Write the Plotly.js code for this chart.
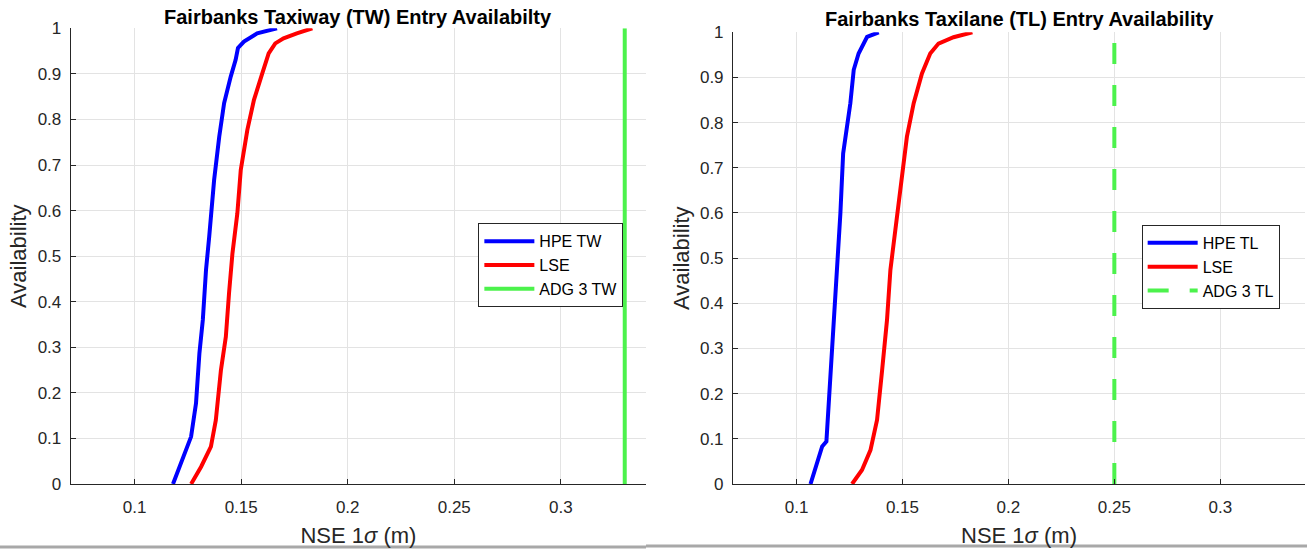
<!DOCTYPE html>
<html>
<head>
<meta charset="utf-8">
<script src="https://cdn.plot.ly/plotly-3.0.1.min.js"></script>
<style>html,body{margin:0;padding:0;background:#fff;}#chart{width:1307px;height:550px;}</style>
</head>
<body>
<div id="chart"></div>
<script>
// ---- Data ----
var twTitle = 'Fairbanks Taxiway (TW) Entry Availabilty';
var tlTitle = 'Fairbanks Taxilane (TL) Entry Availability';
var xLabel = 'NSE 1<i>σ</i> (m)';
var yLabel = 'Availability';

// Left: Taxiway
var hpeTW_x = [0.118, 0.1234, 0.1265, 0.1288, 0.1304, 0.132, 0.1335, 0.135, 0.1373, 0.1397, 0.142, 0.1451, 0.1474, 0.1485, 0.1513, 0.1575, 0.1668];
var hpeTW_y = [0, 0.067, 0.104, 0.177, 0.287, 0.36, 0.47, 0.543, 0.667, 0.762, 0.836, 0.894, 0.931, 0.957, 0.971, 0.989, 1.0];
var lseTW_x = [0.1265, 0.1312, 0.1358, 0.1381, 0.1405, 0.1428, 0.1443, 0.1459, 0.1482, 0.1498, 0.1529, 0.156, 0.1599, 0.1629, 0.166, 0.1699, 0.1761, 0.1834];
var lseTW_y = [0, 0.038, 0.082, 0.14, 0.25, 0.323, 0.419, 0.506, 0.594, 0.689, 0.777, 0.843, 0.901, 0.945, 0.967, 0.978, 0.989, 1.0];
var adgTW = 0.33;

// Right: Taxilane
var hpeTL_x = [0.1066, 0.1097, 0.1121, 0.1141, 0.1152, 0.1168, 0.1184, 0.1199, 0.1207, 0.122, 0.1231, 0.1254, 0.127, 0.1293, 0.1333, 0.1388];
var hpeTL_y = [0, 0.046, 0.083, 0.094, 0.179, 0.289, 0.4, 0.511, 0.599, 0.732, 0.769, 0.843, 0.917, 0.953, 0.99, 1.0];
var lseTL_x = [0.1262, 0.1309, 0.1349, 0.138, 0.1404, 0.1427, 0.1443, 0.1462, 0.1482, 0.1498, 0.1521, 0.1553, 0.1592, 0.1631, 0.167, 0.1741, 0.183];
var lseTL_y = [0, 0.031, 0.075, 0.142, 0.252, 0.363, 0.474, 0.547, 0.621, 0.695, 0.769, 0.843, 0.909, 0.953, 0.975, 0.989, 1.0];
var adgTL = 0.25;

var seriesNames = ['HPE TW', 'LSE', 'ADG 3 TW', 'HPE TL', 'LSE', 'ADG 3 TL'];
var availRange = [0, 1];

// ---- Styling ----
var FONT = 'Liberation Sans, Arial, Helvetica, sans-serif';
var AXC = '#262626';
var GRID = '#e3e3e3';
var BLUE = '#0000ff', RED = '#ff0000', GREEN = '#4cf24c';
var LW = 4;

var traces = [
  {x: hpeTW_x, y: hpeTW_y, name: seriesNames[0], mode: 'lines', line: {color: BLUE, width: LW}, xaxis: 'x', yaxis: 'y', legend: 'legend'},
  {x: lseTW_x, y: lseTW_y, name: seriesNames[1], mode: 'lines', line: {color: RED, width: LW}, xaxis: 'x', yaxis: 'y', legend: 'legend'},
  {x: [adgTW, adgTW], y: availRange, name: seriesNames[2], mode: 'lines', line: {color: GREEN, width: LW}, xaxis: 'x', yaxis: 'y', legend: 'legend'},
  {x: hpeTL_x, y: hpeTL_y, name: seriesNames[3], mode: 'lines', line: {color: BLUE, width: LW}, xaxis: 'x2', yaxis: 'y2', legend: 'legend2'},
  {x: lseTL_x, y: lseTL_y, name: seriesNames[4], mode: 'lines', line: {color: RED, width: LW}, xaxis: 'x2', yaxis: 'y2', legend: 'legend2'},
  {x: [adgTL, adgTL], y: availRange, name: seriesNames[5], mode: 'lines', line: {color: GREEN, width: LW, dash: '21px,21px'}, xaxis: 'x2', yaxis: 'y2', legend: 'legend2'}
];

function xAx(domain, anchor) {
  return {
    domain: domain, anchor: anchor, range: [0.07, 0.34], tick0: 0, dtick: 0.05,
    showgrid: true, gridcolor: GRID, gridwidth: 1, zeroline: false,
    showline: true, linecolor: AXC, linewidth: 1, mirror: false,
    ticks: 'inside', ticklen: 5, tickcolor: AXC, tickwidth: 1,
    ticklabelstandoff: 8,
    tickfont: {family: FONT, size: 17, color: AXC},
    title: {text: xLabel, font: {family: FONT, size: 22, color: AXC}, standoff: 11},
    automargin: false
  };
}
function yAx(domain, anchor) {
  return {
    domain: domain, anchor: anchor, range: [0, 1], tick0: 0, dtick: 0.1,
    showgrid: true, gridcolor: GRID, gridwidth: 1, zeroline: false,
    showline: true, linecolor: AXC, linewidth: 1, mirror: false,
    ticks: 'inside', ticklen: 5, tickcolor: AXC, tickwidth: 1,
    ticklabelstandoff: 5,
    tickfont: {family: FONT, size: 17, color: AXC},
    title: {text: yLabel, font: {family: FONT, size: 22, color: AXC}, standoff: 4},
    automargin: false
  };
}

var legendStyle = function (x, y) {
  return {
    x: x, y: y, xanchor: 'left', yanchor: 'top', xref: 'paper', yref: 'paper',
    bgcolor: '#ffffff', bordercolor: AXC, borderwidth: 1,
    font: {family: FONT, size: 16, color: '#000000'},
    itemwidth: 50, tracegroupgap: 0
  };
};

var layout = {
  width: 1307, height: 550,
  margin: {l: 0, r: 0, t: 0, b: 0},
  paper_bgcolor: '#ffffff', plot_bgcolor: '#ffffff',
  showlegend: true,
  xaxis: xAx([0.0541, 0.4943], 'y'),
  yaxis: yAx([0.12, 0.9485], 'x'),
  xaxis2: xAx([0.5608, 0.9985], 'y2'),
  yaxis2: yAx([0.12, 0.9413], 'x2'),
  legend: legendStyle(0.366, 0.594),
  legend2: legendStyle(0.8735, 0.591),
  annotations: [
    {text: '<b>' + twTitle + '</b>', xref: 'paper', yref: 'paper', x: (0.0541 + 0.4943) / 2, y: 1 - 17 / 550, xanchor: 'center', yanchor: 'middle', showarrow: false, font: {family: FONT, size: 20, color: '#000000'}},
    {text: '<b>' + tlTitle + '</b>', xref: 'paper', yref: 'paper', x: (0.5608 + 0.9985) / 2, y: 1 - 19 / 550, xanchor: 'center', yanchor: 'middle', showarrow: false, font: {family: FONT, size: 20, color: '#000000'}}
  ],
  shapes: [
    {type: 'line', xref: 'paper', yref: 'paper', x0: 0, x1: 646 / 1307, y0: 3 / 550, y1: 3 / 550, line: {color: '#a8a8a8', width: 3}},
    {type: 'line', xref: 'paper', yref: 'paper', x0: 646 / 1307, x1: 1, y0: 4 / 550, y1: 4 / 550, line: {color: '#a8a8a8', width: 3}}
  ]
};

Plotly.newPlot('chart', traces, layout, {staticPlot: true, displayModeBar: false});
</script>
</body>
</html>
